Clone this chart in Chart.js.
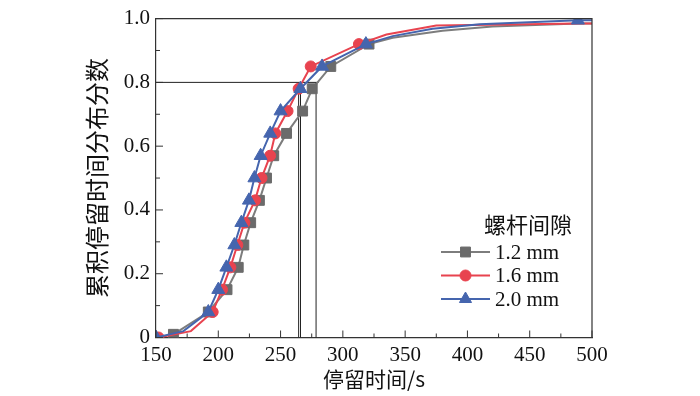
<!DOCTYPE html>
<html>
<head>
<meta charset="utf-8">
<script src="https://cdn.jsdelivr.net/npm/chart.js@4.4.1/dist/chart.umd.min.js"></script>
<style>
	body { margin: 0; background: #fff; }
</style>
</head>
<body>
<canvas id="chartRtd" width="700" height="396"></canvas>
<script>
var xTicks = [150, 200, 250, 300, 350, 400, 450, 500];
var yTicks = [0, 0.2, 0.4, 0.6, 0.8, 1.0];

var legendTitle = '螺杆间隙';
var seriesNames = ['1.2 mm', '1.6 mm', '2.0 mm'];

// 1.2 mm
var grayX = [164, 192, 207, 216, 220.5, 226, 233, 238.7, 244.5, 254.8, 267.7, 275.4, 290.3, 321, 340, 380, 420, 489, 500];
var grayY = [0.01, 0.08, 0.15, 0.22, 0.29, 0.36, 0.43, 0.50, 0.57, 0.64, 0.71, 0.78, 0.85, 0.92, 0.94, 0.962, 0.975, 0.985, 0.985];
var grayMark = [1, 1, 1, 1, 1, 1, 1, 1, 1, 1, 1, 1, 1, 1, 0, 0, 0, 0, 0];

// 1.6 mm
var redX = [152, 178, 195.5, 203, 209.7, 215.3, 221, 229.5, 234.7, 241.6, 245.8, 255.6, 264.5, 274.2, 312.9, 335, 375, 489, 500];
var redY = [0, 0.02, 0.08, 0.15, 0.22, 0.29, 0.36, 0.43, 0.50, 0.57, 0.64, 0.71, 0.78, 0.85, 0.92, 0.95, 0.978, 0.985, 0.985];
var redMark = [1, 0, 1, 1, 1, 1, 1, 1, 1, 1, 1, 1, 1, 1, 1, 0, 0, 0, 0];

// 2.0 mm
var blueX = [150, 172, 192, 200, 206.5, 212.9, 218.5, 224.6, 229, 234, 241.7, 250, 265.9, 283.3, 318.5, 340, 372, 410, 488.7, 500];
var blueY = [0, 0.02, 0.08, 0.15, 0.22, 0.29, 0.36, 0.43, 0.50, 0.57, 0.64, 0.71, 0.78, 0.85, 0.92, 0.945, 0.968, 0.982, 0.995, 0.995];
var blueMark = [1, 0, 1, 1, 1, 1, 1, 1, 1, 1, 1, 1, 1, 1, 1, 0, 0, 0, 1, 0];

// reference lines at F = 0.8
var refY = 0.8;
var refXStart = 150;
var refXEnd = 280.5;
var refX = [264.5, 266, 278.5];

var numFont = 'Liberation Serif, Times New Roman, serif';
var cjkFont = 'Noto Sans CJK SC, sans-serif';

function toPoints(xs, ys) {
	return xs.map((x, i) => ({ x: x, y: ys[i] }));
}

function series(label, xs, ys, marks, color, pointColor, style, r, order) {
	return {
		label: label,
		data: toPoints(xs, ys),
		borderColor: color,
		backgroundColor: pointColor,
		borderWidth: 2,
		pointStyle: style,
		pointBackgroundColor: pointColor,
		pointBorderColor: pointColor,
		pointBorderWidth: 1,
		pointRadius: (ctx) => marks[ctx.dataIndex] ? r : 0,
		tension: 0,
		order: order
	};
}

function refLine(points) {
	return {
		label: '',
		data: points,
		borderColor: '#222',
		borderWidth: 1,
		pointRadius: 0,
		tension: 0,
		order: 5
	};
}

var datasets = [
	series(seriesNames[0], grayX, grayY, grayMark, '#7d7d7d', '#6b6b6b', 'rect', 7, 3),
	series(seriesNames[1], redX, redY, redMark, '#e8434f', '#e8434f', 'circle', 5.5, 2),
	series(seriesNames[2], blueX, blueY, blueMark, '#4565ae', '#4565ae', 'triangle', 7.5, 1),
	refLine([{ x: refXStart, y: refY }, { x: refXEnd, y: refY }])
];
refX.forEach(v => {
	datasets.push(refLine([{ x: v, y: 0 }, { x: v, y: refY }]));
});

// frame on top/right plus inward major and minor ticks
var frameTicks = {
	id: 'frameTicks',
	afterDatasetsDraw(chart) {
		let { ctx, chartArea: a, scales } = chart;
		ctx.save();
		ctx.strokeStyle = '#333';
		ctx.lineWidth = 1.2;
		ctx.beginPath();
		ctx.moveTo(a.left, a.top);
		ctx.lineTo(a.right, a.top);
		ctx.lineTo(a.right, a.bottom);
		ctx.stroke();

		ctx.lineWidth = 1;
		ctx.beginPath();
		xTicks.forEach((v, i) => {
			let px = scales.x.getPixelForValue(v);
			ctx.moveTo(px, a.bottom);
			ctx.lineTo(px, a.bottom - 7);
			if (i < xTicks.length - 1) {
				let mx = scales.x.getPixelForValue((v + xTicks[i + 1]) / 2);
				ctx.moveTo(mx, a.bottom);
				ctx.lineTo(mx, a.bottom - 4);
			}
		});
		yTicks.forEach((v, i) => {
			let py = scales.y.getPixelForValue(v);
			ctx.moveTo(a.left, py);
			ctx.lineTo(a.left + 7, py);
			if (i < yTicks.length - 1) {
				let my = scales.y.getPixelForValue((v + yTicks[i + 1]) / 2);
				ctx.moveTo(a.left, my);
				ctx.lineTo(a.left + 4, my);
			}
		});
		ctx.stroke();
		ctx.restore();
	}
};

// legend drawn inside the plot, lower right
var insideLegend = {
	id: 'insideLegend',
	afterDraw(chart) {
		let ctx = chart.ctx;
		let x0 = 441, x1 = 490, mx = 465.5, tx = 495;
		let rows = [252, 275.5, 299];

		ctx.save();
		ctx.fillStyle = '#111';
		ctx.font = '22px ' + cjkFont;
		ctx.textAlign = 'center';
		ctx.textBaseline = 'middle';
		ctx.fillText(legendTitle, 528, 225);

		ctx.font = '21px ' + numFont;
		ctx.textAlign = 'left';
		for (let i = 0; i < 3; i++) {
			let ds = chart.data.datasets[i];
			let y = rows[i];
			ctx.strokeStyle = ds.borderColor;
			ctx.lineWidth = ds.borderWidth;
			ctx.beginPath();
			ctx.moveTo(x0, y);
			ctx.lineTo(x1, y);
			ctx.stroke();

			ctx.fillStyle = ds.pointBackgroundColor;
			ctx.strokeStyle = ds.pointBorderColor;
			ctx.lineWidth = 1;
			let r = ds.pointStyle === 'circle' ? 5.5 : 7;
			Chart.helpers.drawPoint(ctx, { pointStyle: ds.pointStyle, radius: r, rotation: 0, borderWidth: 1 }, mx, y);

			ctx.fillStyle = '#111';
			ctx.fillText(seriesNames[i], tx, y + 1);
		}
		ctx.restore();
	}
};

var ctx = document.getElementById('chartRtd').getContext('2d');

new Chart(ctx, {
	type: 'line',
	data: { datasets: datasets },
	plugins: [frameTicks, insideLegend],
	options: {
		responsive: false,
		animation: false,
		layout: {
			padding: { left: 80, right: 108, top: 17, bottom: 0 }
		},
		plugins: {
			legend: { display: false },
			tooltip: { enabled: false }
		},
		scales: {
			x: {
				type: 'linear',
				min: 150,
				max: 500,
				afterBuildTicks: (s) => { s.ticks = xTicks.map(v => ({ value: v })); },
				afterFit: (s) => { s.height = 58.5; },
				grid: { display: false, drawTicks: false },
				border: { display: true, color: '#333', width: 1.2 },
				ticks: {
					color: '#111',
					padding: 5,
					maxRotation: 0,
					autoSkip: false,
					font: { family: numFont, size: 21 },
					callback: (v) => String(v)
				},
				title: {
					display: true,
					text: '停留时间/s',
					color: '#111',
					font: { family: cjkFont, size: 21 },
					padding: { top: 0, bottom: 4 }
				}
			},
			y: {
				min: 0,
				max: 1,
				afterBuildTicks: (s) => { s.ticks = yTicks.map(v => ({ value: v })); },
				afterFit: (s) => { s.width = 76; },
				grid: { display: false, drawTicks: false },
				border: { display: true, color: '#333', width: 1.2 },
				ticks: {
					color: '#111',
					padding: 6,
					font: { family: numFont, size: 21 },
					callback: (v) => v === 0 ? '0' : v.toFixed(1)
				},
				title: {
					display: true,
					text: '累积停留时间分布分数',
					color: '#111',
					font: { family: cjkFont, size: 24 },
					padding: { top: 2, bottom: 0 }
				}
			}
		}
	}
});
</script>
</body>
</html>
